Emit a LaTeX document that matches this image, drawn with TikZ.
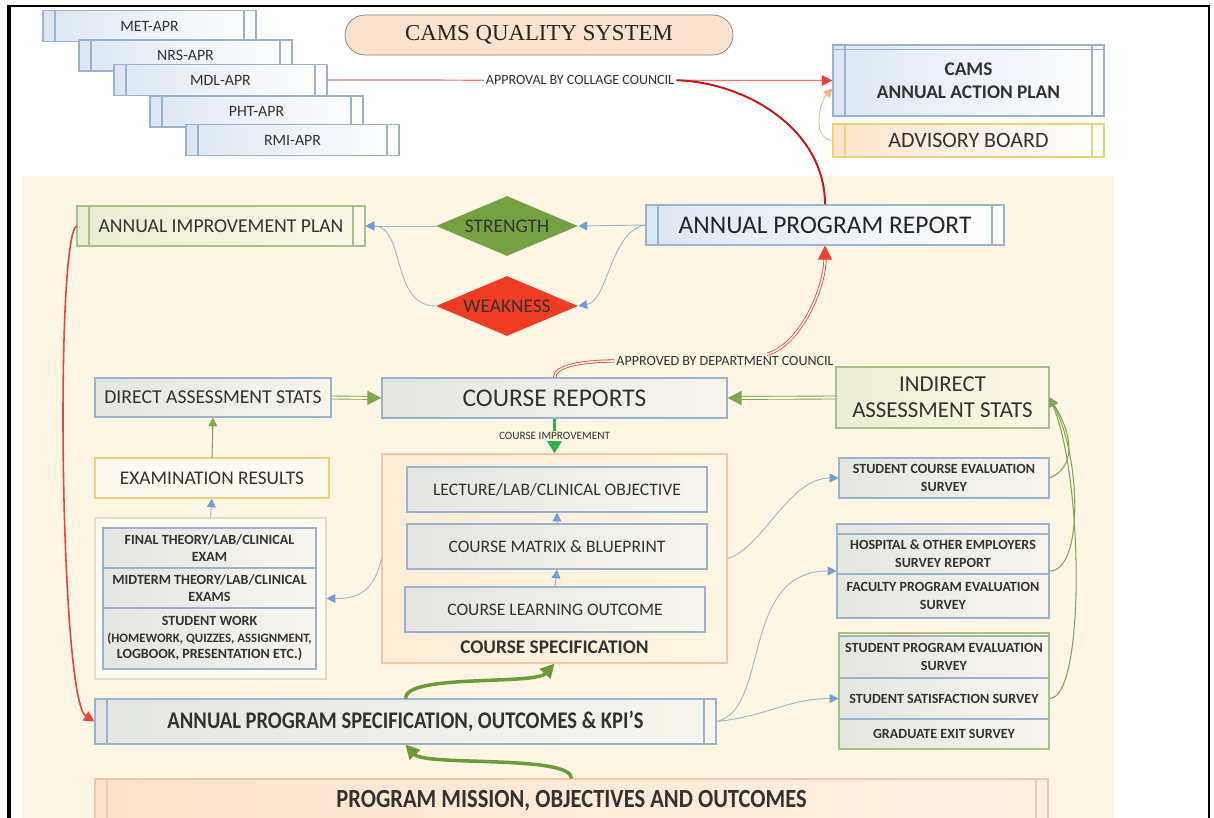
\documentclass[tikz,border=0pt]{standalone}
\usepackage{fontspec}
\setmainfont{Carlito}
\newfontfamily\ttlfont{Liberation Serif}
\newfontfamily\condfont{Carlito}[FakeStretch=0.86]
\usetikzlibrary{positioning,arrows.meta,shapes.geometric,calc}
\definecolor{cream}{HTML}{FEF6E4}
\definecolor{ink}{HTML}{333333}
\definecolor{cbord}{HTML}{9BB3CF}
\definecolor{cgbord}{HTML}{A8C08A}
\definecolor{cybord}{HTML}{F2D07A}
\definecolor{cobord}{HTML}{F6C7A0}
\definecolor{coutl}{HTML}{E6DCC8}
\definecolor{cblueL}{HTML}{DCE6F2}
\definecolor{cgrayL}{HTML}{E4E6E2}
\definecolor{cgrayR}{HTML}{F7F5EC}
\definecolor{cgreenL}{HTML}{ECEDD5}
\definecolor{cgreenR}{HTML}{FBF7E6}
\definecolor{cpeachL}{HTML}{FCE3CD}
\definecolor{cpeachR}{HTML}{FEF0E2}
\definecolor{cpill}{HTML}{FBE2CF}
\definecolor{cstr}{HTML}{77A043}
\definecolor{cweak}{HTML}{F03C24}
\definecolor{cbline}{HTML}{9DB6CC}
\definecolor{cbtip}{HTML}{6E9FD6}
\definecolor{cgline}{HTML}{7FA653}
\definecolor{cgthick}{HTML}{6E9A3E}
\definecolor{cgimp}{HTML}{2EB34B}
\definecolor{cred}{HTML}{E8453A}
\definecolor{credlt}{HTML}{EC7A70}
\definecolor{cdred}{HTML}{C2171B}
\definecolor{corange}{HTML}{F4B183}

\begin{document}
\begin{tikzpicture}[x=0.02cm, y=-0.02cm,
 sz/.style 2 args={minimum width=#1*0.02cm, minimum height=#2*0.02cm},
 base/.style={rectangle, inner sep=1pt, align=center, text=ink, line width=0.6pt},
 bluebox/.style={base, draw=cbord, left color=cblueL, right color=white},
 graybox/.style={base, draw=cbord, left color=cgrayL, right color=cgrayR},
 greenbox/.style={base, draw=cgbord, left color=cgreenL, right color=cgreenR},
 bars/.style={path picture={
   \draw[#1, line width=0.6pt]
     ([xshift=0.24cm]path picture bounding box.north west) -- ([xshift=0.24cm]path picture bounding box.south west)
     ([xshift=-0.24cm]path picture bounding box.north east) -- ([xshift=-0.24cm]path picture bounding box.south east);}},
 pill/.style={rectangle, rounded corners=0.4cm, draw=black!50, fill=cpill, sz={388}{40},
   font=\ttlfont\fontsize{13}{15}\selectfont, text=black!85},
 dia/.style={diamond, aspect=2.37, inner sep=0pt, sz={142}{60}, text=ink,
   font=\fontsize{11}{13}\selectfont},
 lbl/.style={inner sep=1pt, text=ink, font=\fontsize{8}{9}\selectfont},
 barr/.style={draw=cbline, line width=0.5pt, -{Triangle[length=5pt,width=5pt,color=cbtip]}},
 garr/.style={draw=cgline, line width=0.6pt, -{Triangle[length=5pt,width=5pt,color=cgline]}},
 gdbl/.style={draw=cgline, double=cream, double distance=1.2pt, line width=0.5pt,
   -{Triangle[length=8pt,width=8pt,color=cgline]}},
 gthick/.style={draw=cgthick, line width=2pt, -{Triangle[length=8pt,width=8pt,color=cgthick]}},
 rdbl/.style={draw=cred, double=cream, double distance=0.9pt, line width=0.45pt},
 rarr/.style={draw=cred, line width=0.9pt, -{Triangle[length=6pt,width=6pt,color=cred]}},
]
 \useasboundingbox (0,0) rectangle (1214,818);
 \fill[cream] (22,176) rectangle (1114,818);
 \draw[line width=1.2pt] (9,6) -- (1209,6) -- (1209,818);
 \draw[line width=1.8pt] (9,5) -- (9,818);

 % title and the stacked department reports
 \node[pill] (TTL) at (539,35) {CAMS QUALITY SYSTEM};
 \foreach \n/\x/\y in {MET/149.5/26, NRS/185.5/55.5, MDL/220.5/80, PHT/256.5/111.5, RMI/292.5/140}
   \node[bluebox, bars=cbord, sz={213}{31}, font=\fontsize{9}{10}\selectfont] (\n) at (\x,\y) {\n-APR};

 \node[bluebox, bars=cbord, sz={271}{71}, font=\bfseries\fontsize{11}{13}\selectfont] (AAP) at (968.5,80.5) {CAMS\\ANNUAL ACTION PLAN};
 \draw[cbord, line width=0.6pt] ([yshift=-0.1cm]AAP.north west) -- ([yshift=-0.1cm]AAP.north east);
 \node[base, draw=cybord, left color=cpeachL, right color=white, bars=cybord, sz={271}{33},
   font=\fontsize{12.5}{14}\selectfont] (ADV) at (968.5,140.5) {ADVISORY BOARD};

 % program report loop
 \node[greenbox, bars=cgbord, sz={288}{40}, font=\fontsize{11.2}{13}\selectfont] (AIP) at (221,226) {ANNUAL IMPROVEMENT PLAN};
 \node[dia, fill=cstr] (STR) at (507,226) {STRENGTH};
 \node[dia, fill=cweak] (WEAK) at (507,306) {WEAKNESS};
 \node[bluebox, bars=cbord, sz={358}{40}, font=\fontsize{14.5}{16}\selectfont, text=black!85] (APR) at (825,225) {ANNUAL PROGRAM REPORT};

 % direct assessment column
 \node[graybox, sz={236}{39}, font=\fontsize{11.2}{13}\selectfont] (DAS) at (213,397.5) {DIRECT ASSESSMENT STATS};
 \node[base, draw=cybord, fill=cream!60!white, sz={234}{40}, font=\fontsize{11}{13}\selectfont] (EXR) at (212,478) {EXAMINATION RESULTS};
 \node[base, draw=coutl, fill=cream!50!white, sz={231}{161}] (EXG) at (210.5,598.5) {};
 \node[graybox, sz={213}{40}, font=\bfseries\fontsize{8}{9.6}\selectfont] (FIN) at (209.5,548) {FINAL THEORY/LAB/CLINICAL\\EXAM};
 \node[graybox, sz={213}{40}, font=\bfseries\fontsize{8}{9.6}\selectfont] (MID) at (209.5,588) {MIDTERM THEORY/LAB/CLINICAL\\EXAMS};
 \node[graybox, sz={213}{61}, font=\bfseries\fontsize{8}{9.4}\selectfont] (WORK) at (209.5,638.5)
   {STUDENT WORK\\\fontsize{7.3}{9.4}\selectfont(HOMEWORK, QUIZZES, ASSIGNMENT,\\LOGBOOK, PRESENTATION ETC.)};

 % course level
 \node[graybox, sz={345}{40}, font=\fontsize{14.5}{16}\selectfont] (CR) at (554.5,398) {COURSE REPORTS};
 \node[base, draw=cobord, left color=cpeachL!55!cream, right color=cream, sz={345}{209}] (CS) at (554.5,558.5) {};
 \node[base, font=\bfseries\fontsize{11}{13}\selectfont] (CSL) at (554.5,647) {COURSE SPECIFICATION};
 \node[graybox, sz={300}{45}, font=\fontsize{10}{12}\selectfont] (LLO) at (557,489.5) {LECTURE/LAB/CLINICAL OBJECTIVE};
 \node[graybox, sz={300}{45}, font=\fontsize{10}{12}\selectfont] (CMB) at (557,546.5) {COURSE MATRIX \& BLUEPRINT};
 \node[graybox, sz={300}{45}, font=\fontsize{10}{12}\selectfont] (CLO) at (555,609.5) {COURSE LEARNING OUTCOME};

 % indirect assessment column
 \node[greenbox, sz={213}{61}, font=\fontsize{13}{14.7}\selectfont] (IAS) at (942.5,397.5) {INDIRECT\\ASSESSMENT STATS};
 \node[graybox, sz={210}{40}, font=\bfseries\fontsize{8}{10.2}\selectfont] (SCE) at (944,478) {STUDENT COURSE EVALUATION\\SURVEY};
 \node[graybox, sz={212}{94}] (EMP) at (943,571) {};
 \draw[cbord, line width=0.6pt] ([yshift=-0.2cm]EMP.north west) -- ([yshift=-0.2cm]EMP.north east);
 \node[graybox, sz={212}{40}, font=\bfseries\fontsize{8}{10.2}\selectfont] (HOS) at (943,554) {HOSPITAL \& OTHER EMPLOYERS\\SURVEY REPORT};
 \node[graybox, sz={212}{44}, font=\bfseries\fontsize{8}{10.2}\selectfont] (FAC) at (943,596) {FACULTY PROGRAM EVALUATION\\SURVEY};
 \node[graybox, sz={210}{42}, font=\bfseries\fontsize{8}{10.2}\selectfont] (SPE) at (944,657) {STUDENT PROGRAM EVALUATION\\SURVEY};
 \node[graybox, sz={210}{41}, font=\bfseries\fontsize{8}{10.2}\selectfont] (SSS) at (944,698.5) {STUDENT SATISFACTION SURVEY};
 \node[graybox, sz={210}{30}, font=\bfseries\fontsize{8}{10.2}\selectfont] (GES) at (944,734) {GRADUATE EXIT SURVEY};
 \node[base, draw=cgbord, sz={210}{116}] (STU) at (944,691) {};
 \draw[cgbord, line width=0.6pt] ([yshift=-0.06cm]STU.north west) -- ([yshift=-0.06cm]STU.north east);

 % program level
 \node[base, draw=cbord, left color=cgrayL, right color=cgrayR, bars=cbord, sz={621}{45},
   font=\condfont\bfseries\fontsize{13.6}{15}\selectfont] (APS) at (405.5,721.5) {ANNUAL PROGRAM SPECIFICATION, OUTCOMES \& KPI’S};
 \node[base, draw=cobord, left color=cpeachL, right color=cpeachR, bars=cobord, sz={953}{44},
   font=\condfont\bfseries\fontsize{14.9}{16}\selectfont] (PM) at (571.5,801) {PROGRAM MISSION, OBJECTIVES AND OUTCOMES};

 % approvals
 \draw[draw=credlt, line width=0.7pt, -{Triangle[length=6pt,width=6pt,color=cred]}] (MDL.east) --
   node[lbl, fill=white] (CCL) {APPROVAL BY COLLAGE COUNCIL} (AAP.west);
 \draw[cdred, line width=1.1pt] (APR.north) .. controls +(0,-75) and +(70,2) .. (CCL.east);
 \draw[draw=corange, line width=0.5pt, -{Triangle[length=5pt,width=5pt,color=corange]}]
   (ADV.west) .. controls +(-22,-2) and +(-12,12) .. ($(AAP.west)+(0,8)$);
 \node[lbl] (DCL) at (725,361) {APPROVED BY DEPARTMENT COUNCIL};
 \draw[rdbl] (CR.north) .. controls +(0,-12) and +(-30,0) .. (DCL.west);
 \draw[rdbl, -{Triangle[length=8pt,width=8pt,color=cred]}] ($(DCL.north)+(42,0)$) .. controls +(35,-10) and +(0,40) .. (APR.south);

 % strengths and weaknesses
 \draw[barr] (APR.west) -- (STR.east);
 \draw[barr] (APR.west) .. controls +(-35,5) and +(30,-5) .. (WEAK.east);
 \draw[barr] (STR.west) -- (AIP.east);
 \draw[barr] (WEAK.west) .. controls +(-45,0) and +(40,0) .. (AIP.east);
 \draw[rarr] (AIP.west) .. controls (55,240) and (60,700) .. (APS.west);

 % assessment flows
 \draw[barr] (EXG.north) -- (EXR.south);
 \draw[garr] (EXR.north) -- (DAS.south);
 \draw[gdbl] (DAS.east) -- (CR.west);
 \draw[gdbl] (IAS.west) -- (CR.east);
 \draw[draw=cgimp, line width=1.8pt, -{Triangle[length=7pt,width=8pt,color=cgimp]}] (CR.south) --
   node[inner sep=1pt, fill=cream, text=ink, font=\fontsize{6.4}{7}\selectfont] {COURSE IMPROVEMENT} (CS.north);
 \draw[barr] (CLO.north) -- (CMB.south);
 \draw[barr] (CMB.north) -- (LLO.south);
 \draw[barr] (CS.west) .. controls +(-8,35) and +(30,0) .. (EXG.east);
 \draw[barr] (CS.east) .. controls +(35,-10) and +(-50,0) .. (SCE.west);
 \draw[barr] (APS.east) .. controls +(54,-12) and +(-97,0) .. (EMP.west);
 \draw[barr] (APS.east) .. controls +(50,-5) and +(-50,0) .. (SSS.west);
 \draw[garr] (SCE.east) .. controls +(25,-10) and +(25,40) .. (IAS.east);
 \draw[garr] (EMP.east) .. controls +(34,0) and +(32,60) .. (IAS.east);
 \draw[garr] (SSS.east) .. controls +(36,0) and +(34,80) .. (IAS.east);
 \draw[gthick] (APS.north) .. controls +(0,-25) and +(-20,22) .. (CS.south);
 \draw[gthick] (PM.north) .. controls +(0,-24) and +(20,22) .. (APS.south);
\end{tikzpicture}
\end{document}
